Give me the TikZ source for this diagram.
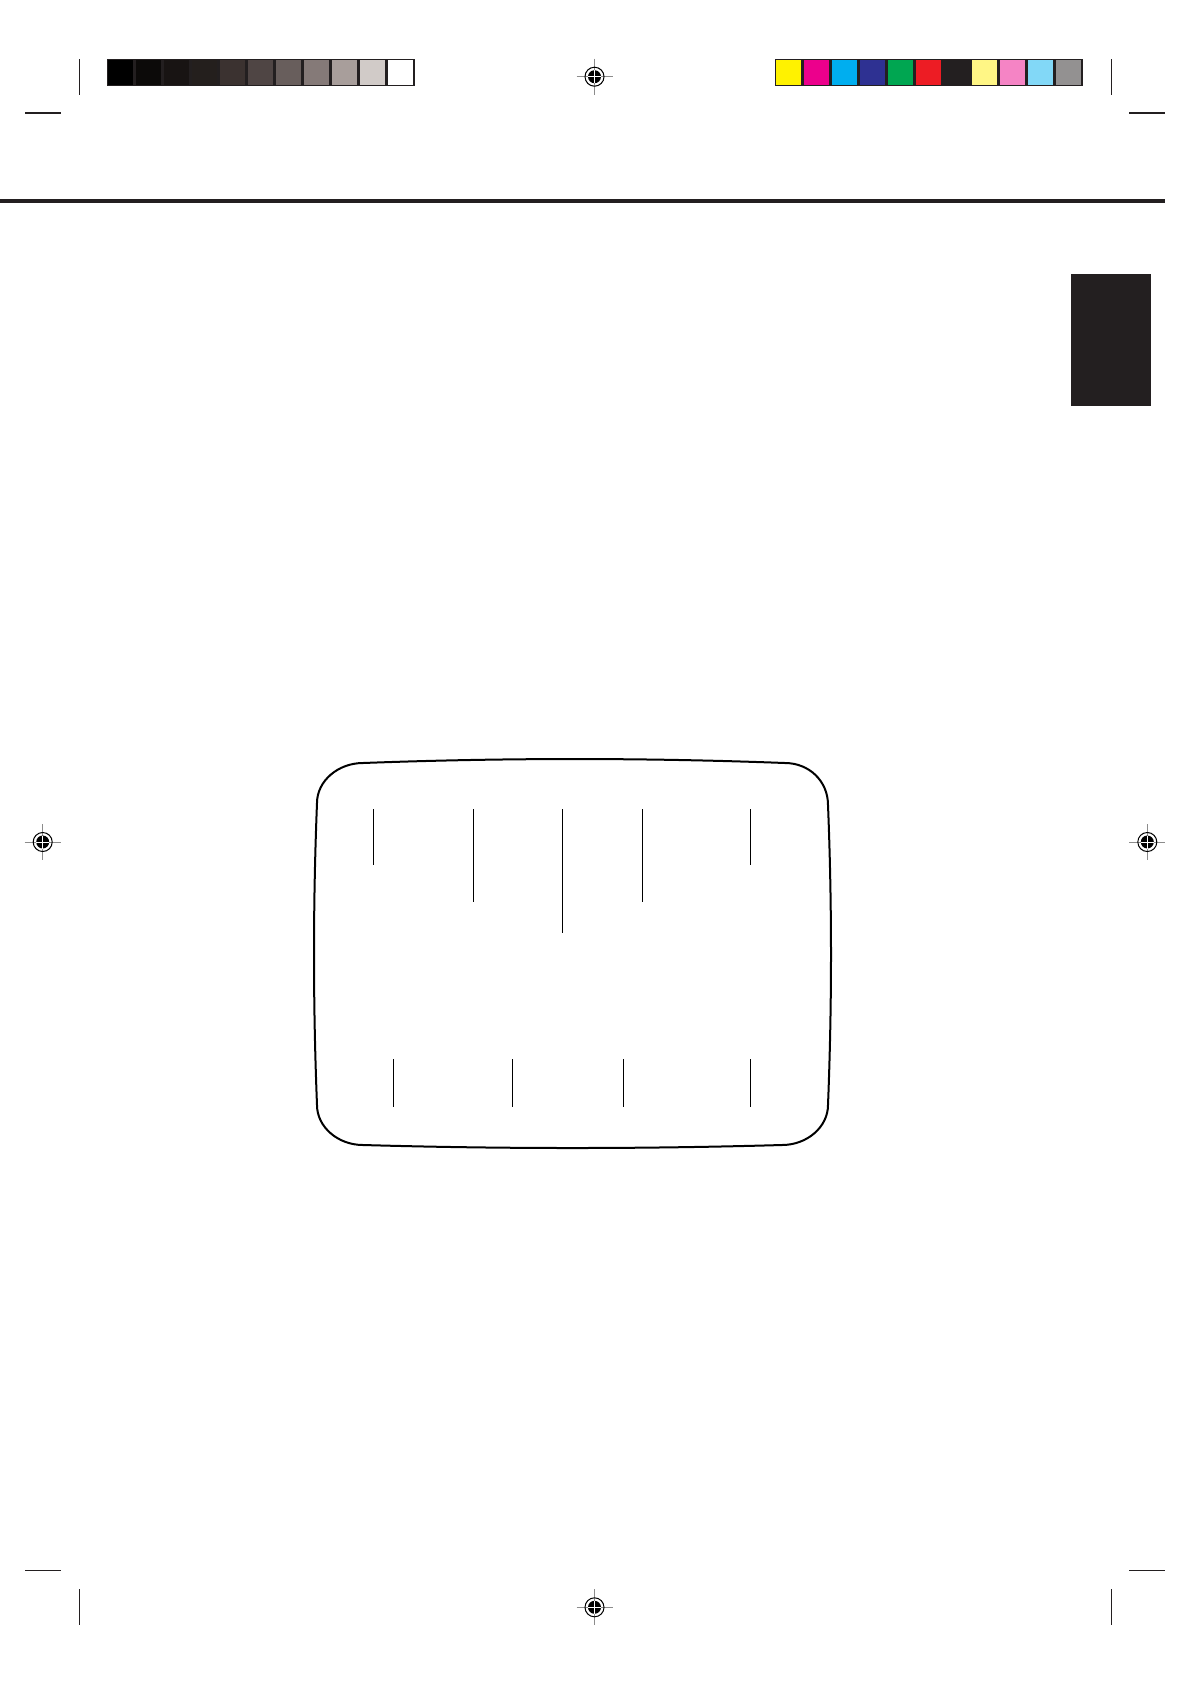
\documentclass[tikz,border=0pt]{standalone}
\usetikzlibrary{calc}
\definecolor{ink}{HTML}{231F20}
\definecolor{g1}{HTML}{000000}
\definecolor{g2}{HTML}{0C0A09}
\definecolor{g3}{HTML}{181413}
\definecolor{g4}{HTML}{241F1D}
\definecolor{g5}{HTML}{3B3230}
\definecolor{g6}{HTML}{4F4544}
\definecolor{g7}{HTML}{685E5C}
\definecolor{g8}{HTML}{857A78}
\definecolor{g9}{HTML}{A89E9B}
\definecolor{g10}{HTML}{D1CBC8}
\definecolor{g11}{HTML}{FFFFFF}
\definecolor{c1}{HTML}{FFF200}
\definecolor{c2}{HTML}{EC008C}
\definecolor{c3}{HTML}{00AEEF}
\definecolor{c4}{HTML}{2E3192}
\definecolor{c5}{HTML}{00A651}
\definecolor{c6}{HTML}{ED1C24}
\definecolor{c7}{HTML}{231F20}
\definecolor{c8}{HTML}{FFF685}
\definecolor{c9}{HTML}{F584C5}
\definecolor{c10}{HTML}{82D8F7}
\definecolor{c11}{HTML}{939191}
\tikzset{
  cropline/.style={line width=0.6bp, ink},
  tvline/.style={line width=1bp, black},
  tick/.style={line width=0.5bp, black},
  regcross/.style={line width=0.5bp, black!45},
}
\newcommand{\regmark}[2]{%
  \draw[regcross] (#1-18,#2) -- (#1+18,#2) (#1,#2-18) -- (#1,#2+18);
  \fill[black] (#1,#2) circle (6.5);
  \draw[white, line width=0.5bp] (#1-6.5,#2) -- (#1+6.5,#2) (#1,#2-6.5) -- (#1,#2+6.5);
  \draw[black, line width=0.5bp] (#1,#2) circle (9.5);
}
\begin{document}
\begin{tikzpicture}[x=0.5bp,y=-0.5bp]
\useasboundingbox[fill=white] (0,0) rectangle (1190,1684);
% crop marks
\draw[cropline] (25,113) -- (61,113);
\draw[cropline] (79.3,59) -- (79.3,94.5);
\draw[cropline] (1129,113) -- (1165,113);
\draw[cropline] (1111.3,59) -- (1111.3,94.5);
\draw[cropline] (25,1570.5) -- (61,1570.5);
\draw[cropline] (79.3,1589) -- (79.3,1625);
\draw[cropline] (1129,1570.5) -- (1165,1570.5);
\draw[cropline] (1111.3,1589) -- (1111.3,1625);
% gray bar
\fill[ink] (107,59) rectangle (415,85.8);
\foreach \i in {1,...,11} {
  \fill[g\i] ({108.4+(\i-1)*28.0},60.2) rectangle ({108.4+(\i-1)*28.0+24.8},84.7);
}
% colour bar
\fill[ink] (775,59) rectangle (1082.6,85.8);
\foreach \i in {1,...,11} {
  \fill[c\i] ({776.4+(\i-1)*28.0},60.2) rectangle ({776.4+(\i-1)*28.0+24.8},84.7);
}
% registration marks
\regmark{594.5}{76.7}
\regmark{594.5}{1607.3}
\regmark{42.7}{842}
\regmark{1147.3}{842}
% heading rule
\fill[ink] (0,199) rectangle (1165,203);
% black tab
\fill[ink] (1071,274) rectangle (1151,406);
% TV screen outline
\coordinate (tl1) at (317,803);
\coordinate (tl2) at (363,763);
\coordinate (tr1) at (785,763);
\coordinate (tr2) at (828,805);
\coordinate (br1) at (828,1105);
\coordinate (br2) at (782,1145);
\coordinate (bl1) at (363,1145);
\coordinate (bl2) at (317,1105);
\draw[tvline]
  (tl1) .. controls (317,781) and (338,763) .. (tl2)
  .. controls (504,757.7) and (646,757.7) .. (tr1)
  .. controls (809,763) and (828,781) .. (tr2)
  .. controls (832,904) and (832,1004) .. (br1)
  .. controls (828,1127) and (807,1145) .. (br2)
  .. controls (642,1149) and (503,1149) .. (bl1)
  .. controls (338,1145) and (317,1127) .. (bl2)
  .. controls (313,1004) and (313,904) .. (tl1) -- cycle;
% top ticks
\draw[tick] (373,809) -- (373,865);
\draw[tick] (473,809) -- (473,902);
\draw[tick] (562,809) -- (562,933);
\draw[tick] (642,809) -- (642,902);
\draw[tick] (750,809) -- (750,865);
% bottom ticks
\draw[tick] (393,1059) -- (393,1107);
\draw[tick] (512,1059) -- (512,1107);
\draw[tick] (623,1059) -- (623,1107);
\draw[tick] (750,1059) -- (750,1107);
\end{tikzpicture}
\end{document}
